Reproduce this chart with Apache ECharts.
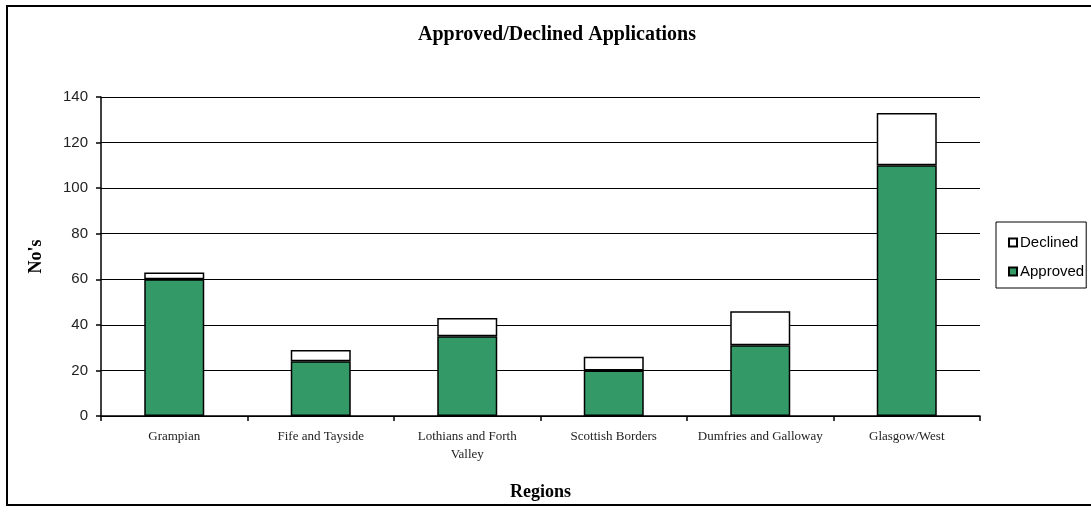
<!DOCTYPE html>
<html>
<head>
<meta charset="utf-8">
<script src="https://cdn.jsdelivr.net/npm/echarts@6/dist/echarts.min.js"></script>
<style>
  html, body { margin: 0; padding: 0; background: #fff; }
  #chart { width: 1091px; height: 512px; }
</style>
</head>
<body>
<div id="chart"></div>
<script>
// region names (tick labels)
const regions = [
    'Grampian',
    'Fife and Tayside',
    'Lothians and Forth\nValley',
    'Scottish Borders',
    'Dumfries and Galloway',
    'Glasgow/West'
];
const approved = [60, 24, 35, 20, 31, 110];
const declined = [3, 5, 8, 6, 15, 23];
const yTicks = [0, 20, 40, 60, 80, 100, 120, 140];

const serif = '"Liberation Serif", "Times New Roman", serif';
const sans = '"Liberation Sans", Arial, sans-serif';

const chart = echarts.init(document.getElementById('chart'));

chart.setOption({
    animation: false,
    backgroundColor: '#fff',
    title: {
        text: 'Approved/Declined Applications',
        left: 552,
        textAlign: 'center',
        top: 20,
        textStyle: {fontFamily: serif, fontSize: 20, fontWeight: 'bold', color: '#000'}
    },
    graphic: [{
        type: 'rect',
        shape: {x: 7, y: 6, width: 1095, height: 499},
        style: {fill: 'none', stroke: '#000', lineWidth: 2}
    }],
    legend: {
        data: ['Declined', 'Approved'],
        orient: 'vertical',
        left: 996,
        top: 222,
        padding: [13, 2, 9, 12],
        itemGap: 14,
        itemWidth: 8,
        itemHeight: 8,
        icon: 'rect',
        borderColor: '#000',
        borderWidth: 1,
        textStyle: {fontFamily: sans, fontSize: 15, color: '#000', padding: [0, 0, 0, -2]}
    },
    grid: {left: 101, right: 111, top: 97, bottom: 96},
    xAxis: {
        type: 'category',
        data: regions,
        name: 'Regions',
        nameLocation: 'middle',
        nameGap: 67,
        nameTextStyle: {fontFamily: serif, fontSize: 18, fontWeight: 'bold', color: '#000'},
        axisLine: {lineStyle: {color: '#000', width: 1.5}},
        axisTick: {show: true, length: 5, lineStyle: {color: '#000', width: 1.5}},
        axisLabel: {
            fontFamily: serif, fontSize: 13, color: '#222', margin: 12,
            lineHeight: 18, interval: 0
        }
    },
    yAxis: {
        type: 'value',
        min: 0,
        max: yTicks[yTicks.length - 1],
        interval: yTicks[1] - yTicks[0],
        name: "No's",
        nameLocation: 'middle',
        nameGap: 56,
        nameTextStyle: {fontFamily: serif, fontSize: 18, fontWeight: 'bold', color: '#000'},
        axisLine: {show: true, lineStyle: {color: '#000', width: 1.5}},
        axisTick: {show: true, length: 5, lineStyle: {color: '#000', width: 1.5}},
        axisLabel: {fontFamily: sans, fontSize: 15, color: '#222', margin: 13},
        splitLine: {lineStyle: {color: '#000', width: 1.2}}
    },
    series: [
        {
            name: 'Approved',
            type: 'bar',
            stack: 'apps',
            data: approved,
            barWidth: 60,
            itemStyle: {color: '#339966', borderColor: '#000', borderWidth: 1.5}
        },
        {
            name: 'Declined',
            type: 'bar',
            stack: 'apps',
            data: declined,
            barWidth: 60,
            itemStyle: {color: '#fff', borderColor: '#000', borderWidth: 1.5}
        }
    ]
});
</script>
</body>
</html>
